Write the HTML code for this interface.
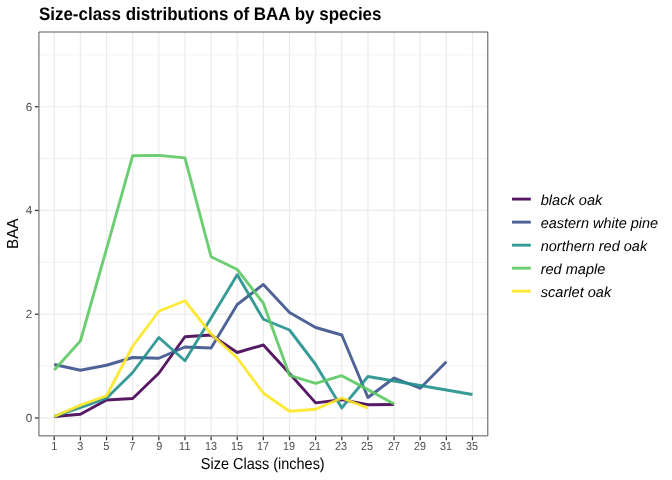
<!DOCTYPE html>
<html><head><meta charset="utf-8"><title>Size-class distributions of BAA by species</title>
<style>
html,body{margin:0;padding:0;background:#fff;}
svg{display:block;will-change:transform;}
text{text-rendering:geometricPrecision;font-family:"Liberation Sans",Arial,Helvetica,sans-serif;}
</style></head><body>
<svg width="672" height="480" viewBox="0 0 672 480">
<rect width="672" height="480" fill="#fff"/>

<line x1="38.93" x2="487.8" y1="366.08" y2="366.08" stroke="#ebebeb" stroke-width="0.65"/>
<line x1="38.93" x2="487.8" y1="262.34" y2="262.34" stroke="#ebebeb" stroke-width="0.65"/>
<line x1="38.93" x2="487.8" y1="158.6" y2="158.6" stroke="#ebebeb" stroke-width="0.65"/>
<line x1="38.93" x2="487.8" y1="54.86" y2="54.86" stroke="#ebebeb" stroke-width="0.65"/>
<line x1="38.93" x2="487.8" y1="417.95" y2="417.95" stroke="#ebebeb" stroke-width="1.2"/>
<line x1="38.93" x2="487.8" y1="314.21" y2="314.21" stroke="#ebebeb" stroke-width="1.2"/>
<line x1="38.93" x2="487.8" y1="210.47" y2="210.47" stroke="#ebebeb" stroke-width="1.2"/>
<line x1="38.93" x2="487.8" y1="106.73" y2="106.73" stroke="#ebebeb" stroke-width="1.2"/>
<line x1="54.25" x2="54.25" y1="32.0" y2="435.87" stroke="#ebebeb" stroke-width="1.2"/>
<line x1="80.39" x2="80.39" y1="32.0" y2="435.87" stroke="#ebebeb" stroke-width="1.2"/>
<line x1="106.53" x2="106.53" y1="32.0" y2="435.87" stroke="#ebebeb" stroke-width="1.2"/>
<line x1="132.67" x2="132.67" y1="32.0" y2="435.87" stroke="#ebebeb" stroke-width="1.2"/>
<line x1="158.81" x2="158.81" y1="32.0" y2="435.87" stroke="#ebebeb" stroke-width="1.2"/>
<line x1="184.95" x2="184.95" y1="32.0" y2="435.87" stroke="#ebebeb" stroke-width="1.2"/>
<line x1="211.09" x2="211.09" y1="32.0" y2="435.87" stroke="#ebebeb" stroke-width="1.2"/>
<line x1="237.23" x2="237.23" y1="32.0" y2="435.87" stroke="#ebebeb" stroke-width="1.2"/>
<line x1="263.37" x2="263.37" y1="32.0" y2="435.87" stroke="#ebebeb" stroke-width="1.2"/>
<line x1="289.51" x2="289.51" y1="32.0" y2="435.87" stroke="#ebebeb" stroke-width="1.2"/>
<line x1="315.65" x2="315.65" y1="32.0" y2="435.87" stroke="#ebebeb" stroke-width="1.2"/>
<line x1="341.79" x2="341.79" y1="32.0" y2="435.87" stroke="#ebebeb" stroke-width="1.2"/>
<line x1="367.93" x2="367.93" y1="32.0" y2="435.87" stroke="#ebebeb" stroke-width="1.2"/>
<line x1="394.07" x2="394.07" y1="32.0" y2="435.87" stroke="#ebebeb" stroke-width="1.2"/>
<line x1="420.21" x2="420.21" y1="32.0" y2="435.87" stroke="#ebebeb" stroke-width="1.2"/>
<line x1="446.35" x2="446.35" y1="32.0" y2="435.87" stroke="#ebebeb" stroke-width="1.2"/>
<line x1="472.49" x2="472.49" y1="32.0" y2="435.87" stroke="#ebebeb" stroke-width="1.2"/>
<polyline points="54.25,416.5 80.39,414.25 106.53,400 132.67,398.5 158.81,373.25 184.95,336.75 211.09,335 237.23,352.5 263.37,345 289.51,373.4 315.65,402.9 341.79,399.7 367.93,404.7 394.07,404.5" fill="none" stroke="#440154" stroke-opacity="0.9" stroke-width="2.9" stroke-linejoin="round" stroke-linecap="butt"/>
<polyline points="54.25,364.5 80.39,370.25 106.53,365.25 132.67,357.5 158.81,358.25 184.95,347 211.09,348 237.23,304.5 263.37,284.4 289.51,312.5 315.65,327.5 341.79,335 367.93,397.5 394.07,378 420.21,388.25 446.35,361.75" fill="none" stroke="#3B528B" stroke-opacity="0.9" stroke-width="2.9" stroke-linejoin="round" stroke-linecap="butt"/>
<polyline points="54.25,416.25 80.39,407.5 106.53,398.25 132.67,372.5 158.81,337.5 184.95,360.75 211.09,318 237.23,274.7 263.37,319.25 289.51,330 315.65,364.5 341.79,407.9 367.93,376.5 394.07,381 420.21,385.5 446.35,390 472.49,394.5" fill="none" stroke="#21908C" stroke-opacity="0.9" stroke-width="2.9" stroke-linejoin="round" stroke-linecap="butt"/>
<polyline points="54.25,370 80.39,341 106.53,248.8 132.67,155.7 158.81,155.4 184.95,157.9 211.09,256.75 237.23,269.5 263.37,303.25 289.51,375.3 315.65,383.3 341.79,375.7 367.93,389.6 394.07,404" fill="none" stroke="#5DC863" stroke-opacity="0.9" stroke-width="2.9" stroke-linejoin="round" stroke-linecap="butt"/>
<polyline points="54.25,416.5 80.39,405.1 106.53,395.75 132.67,346.25 158.81,311.25 184.95,300.75 211.09,334 237.23,358.0 263.37,393.25 289.51,411.25 315.65,409.25 341.79,398 367.93,408.1" fill="none" stroke="#FDE725" stroke-opacity="0.9" stroke-width="2.9" stroke-linejoin="round" stroke-linecap="butt"/>
<rect x="38.93" y="32.0" width="448.87" height="403.87" fill="none" stroke="#333333" stroke-width="0.82" stroke-linejoin="round"/>
<line x1="34.88" x2="38.43" y1="417.95" y2="417.95" stroke="#333333" stroke-width="1.25"/>
<text x="32.33" y="421.90" font-size="11.73" fill="#4d4d4d" text-anchor="end">0</text>
<line x1="34.88" x2="38.43" y1="314.21" y2="314.21" stroke="#333333" stroke-width="1.25"/>
<text x="32.33" y="318.16" font-size="11.73" fill="#4d4d4d" text-anchor="end">2</text>
<line x1="34.88" x2="38.43" y1="210.47" y2="210.47" stroke="#333333" stroke-width="1.25"/>
<text x="32.33" y="214.42" font-size="11.73" fill="#4d4d4d" text-anchor="end">4</text>
<line x1="34.88" x2="38.43" y1="106.73" y2="106.73" stroke="#333333" stroke-width="1.25"/>
<text x="32.33" y="110.68" font-size="11.73" fill="#4d4d4d" text-anchor="end">6</text>
<line x1="54.25" x2="54.25" y1="436.57" y2="440.24" stroke="#333333" stroke-width="1.25"/>
<text x="54.20" y="450.4" font-size="11.73" fill="#4d4d4d" text-anchor="middle" textLength="6.1" lengthAdjust="spacingAndGlyphs">1</text>
<line x1="80.39" x2="80.39" y1="436.57" y2="440.24" stroke="#333333" stroke-width="1.25"/>
<text x="80.20" y="450.4" font-size="11.73" fill="#4d4d4d" text-anchor="middle" textLength="6.1" lengthAdjust="spacingAndGlyphs">3</text>
<line x1="106.53" x2="106.53" y1="436.57" y2="440.24" stroke="#333333" stroke-width="1.25"/>
<text x="106.20" y="450.4" font-size="11.73" fill="#4d4d4d" text-anchor="middle" textLength="6.1" lengthAdjust="spacingAndGlyphs">5</text>
<line x1="132.67" x2="132.67" y1="436.57" y2="440.24" stroke="#333333" stroke-width="1.25"/>
<text x="132.20" y="450.4" font-size="11.73" fill="#4d4d4d" text-anchor="middle" textLength="6.1" lengthAdjust="spacingAndGlyphs">7</text>
<line x1="158.81" x2="158.81" y1="436.57" y2="440.24" stroke="#333333" stroke-width="1.25"/>
<text x="159.20" y="450.4" font-size="11.73" fill="#4d4d4d" text-anchor="middle" textLength="6.1" lengthAdjust="spacingAndGlyphs">9</text>
<line x1="184.95" x2="184.95" y1="436.57" y2="440.24" stroke="#333333" stroke-width="1.25"/>
<text x="184.70" y="450.4" font-size="11.73" fill="#4d4d4d" text-anchor="middle" textLength="12" lengthAdjust="spacingAndGlyphs">11</text>
<line x1="211.09" x2="211.09" y1="436.57" y2="440.24" stroke="#333333" stroke-width="1.25"/>
<text x="211.00" y="450.4" font-size="11.73" fill="#4d4d4d" text-anchor="middle" textLength="12" lengthAdjust="spacingAndGlyphs">13</text>
<line x1="237.23" x2="237.23" y1="436.57" y2="440.24" stroke="#333333" stroke-width="1.25"/>
<text x="237.00" y="450.4" font-size="11.73" fill="#4d4d4d" text-anchor="middle" textLength="12" lengthAdjust="spacingAndGlyphs">15</text>
<line x1="263.37" x2="263.37" y1="436.57" y2="440.24" stroke="#333333" stroke-width="1.25"/>
<text x="263.00" y="450.4" font-size="11.73" fill="#4d4d4d" text-anchor="middle" textLength="12" lengthAdjust="spacingAndGlyphs">17</text>
<line x1="289.51" x2="289.51" y1="436.57" y2="440.24" stroke="#333333" stroke-width="1.25"/>
<text x="289.00" y="450.4" font-size="11.73" fill="#4d4d4d" text-anchor="middle" textLength="12" lengthAdjust="spacingAndGlyphs">19</text>
<line x1="315.65" x2="315.65" y1="436.57" y2="440.24" stroke="#333333" stroke-width="1.25"/>
<text x="315.00" y="450.4" font-size="11.73" fill="#4d4d4d" text-anchor="middle" textLength="12" lengthAdjust="spacingAndGlyphs">21</text>
<line x1="341.79" x2="341.79" y1="436.57" y2="440.24" stroke="#333333" stroke-width="1.25"/>
<text x="341.00" y="450.4" font-size="11.73" fill="#4d4d4d" text-anchor="middle" textLength="12" lengthAdjust="spacingAndGlyphs">23</text>
<line x1="367.93" x2="367.93" y1="436.57" y2="440.24" stroke="#333333" stroke-width="1.25"/>
<text x="367.00" y="450.4" font-size="11.73" fill="#4d4d4d" text-anchor="middle" textLength="12" lengthAdjust="spacingAndGlyphs">25</text>
<line x1="394.07" x2="394.07" y1="436.57" y2="440.24" stroke="#333333" stroke-width="1.25"/>
<text x="394.00" y="450.4" font-size="11.73" fill="#4d4d4d" text-anchor="middle" textLength="12" lengthAdjust="spacingAndGlyphs">27</text>
<line x1="420.21" x2="420.21" y1="436.57" y2="440.24" stroke="#333333" stroke-width="1.25"/>
<text x="420.00" y="450.4" font-size="11.73" fill="#4d4d4d" text-anchor="middle" textLength="12" lengthAdjust="spacingAndGlyphs">29</text>
<line x1="446.35" x2="446.35" y1="436.57" y2="440.24" stroke="#333333" stroke-width="1.25"/>
<text x="446.00" y="450.4" font-size="11.73" fill="#4d4d4d" text-anchor="middle" textLength="12" lengthAdjust="spacingAndGlyphs">31</text>
<line x1="472.49" x2="472.49" y1="436.57" y2="440.24" stroke="#333333" stroke-width="1.25"/>
<text x="472.00" y="450.4" font-size="11.73" fill="#4d4d4d" text-anchor="middle" textLength="12" lengthAdjust="spacingAndGlyphs">35</text>
<text x="38.9" y="19.6" font-size="18" font-weight="bold" fill="#000" textLength="342.6" lengthAdjust="spacingAndGlyphs">Size-class distributions of BAA by species</text>
<text x="262.75" y="468.8" font-size="15.9" fill="#000" text-anchor="middle" textLength="123.9" lengthAdjust="spacingAndGlyphs">Size Class (inches)</text>
<text transform="translate(18.1,233.74) rotate(-90)" font-size="16.0" fill="#000" text-anchor="middle" textLength="30.5" lengthAdjust="spacingAndGlyphs">BAA</text>
<line x1="512" x2="530.8" y1="199.10" y2="199.10" stroke="#440154" stroke-opacity="0.9" stroke-width="2.9"/>
<text x="540.7" y="204.70" font-size="14.67" font-style="italic" fill="#000" textLength="61.6" lengthAdjust="spacingAndGlyphs">black oak</text>
<line x1="512" x2="530.8" y1="222.13" y2="222.13" stroke="#3B528B" stroke-opacity="0.9" stroke-width="2.9"/>
<text x="540.7" y="227.73" font-size="14.67" font-style="italic" fill="#000" textLength="117.5" lengthAdjust="spacingAndGlyphs">eastern white pine</text>
<line x1="512" x2="530.8" y1="245.16" y2="245.16" stroke="#21908C" stroke-opacity="0.9" stroke-width="2.9"/>
<text x="540.7" y="250.76" font-size="14.67" font-style="italic" fill="#000" textLength="106.5" lengthAdjust="spacingAndGlyphs">northern red oak</text>
<line x1="512" x2="530.8" y1="268.19" y2="268.19" stroke="#5DC863" stroke-opacity="0.9" stroke-width="2.9"/>
<text x="540.7" y="273.79" font-size="14.67" font-style="italic" fill="#000" textLength="64.6" lengthAdjust="spacingAndGlyphs">red maple</text>
<line x1="512" x2="530.8" y1="291.22" y2="291.22" stroke="#FDE725" stroke-opacity="0.9" stroke-width="2.9"/>
<text x="540.7" y="296.82" font-size="14.67" font-style="italic" fill="#000" textLength="70.6" lengthAdjust="spacingAndGlyphs">scarlet oak</text>
</svg></body></html>
